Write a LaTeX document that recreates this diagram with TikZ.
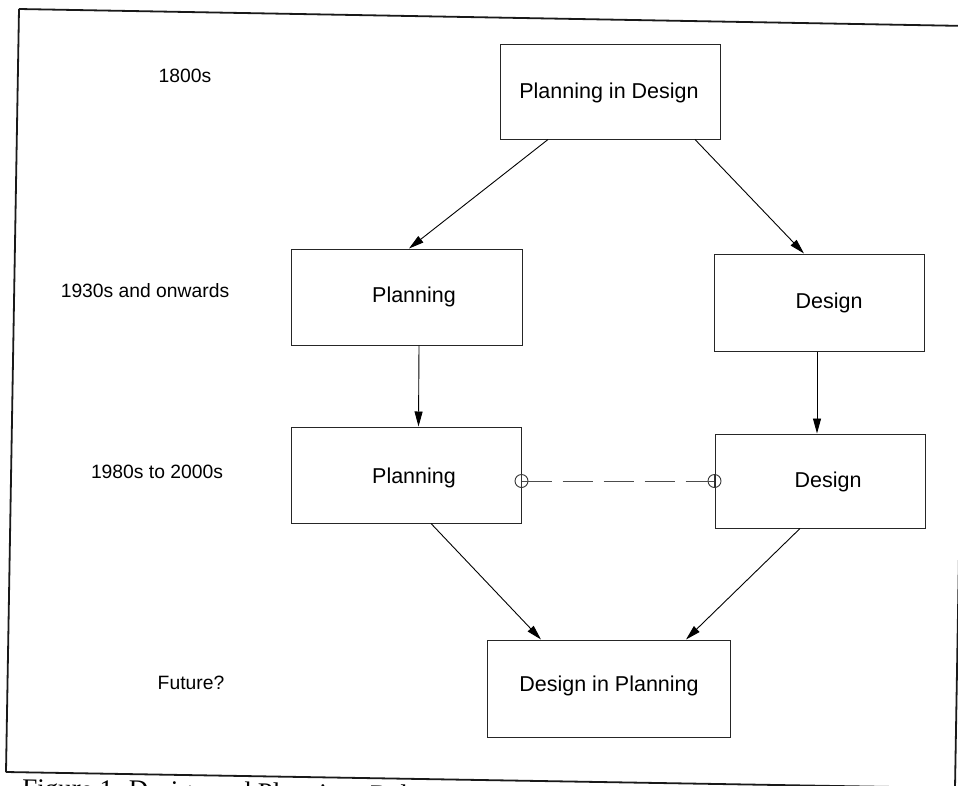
\documentclass[tikz,border=0pt]{standalone}
\usepackage{fontspec}
\setmainfont{Liberation Sans}
\newfontfamily\capfont{Liberation Serif}
\usetikzlibrary{arrows.meta,calc}
\tikzset{
  boxnode/.style={draw=black!85, line width=1pt, rectangle, inner sep=0pt},
  boxtext/.style={font=\fontsize{21.5}{26}\selectfont, inner sep=0pt, text=black},
  rowlabel/.style={font=\fontsize{19.3}{23}\selectfont, inner sep=0pt, text=black},
  arr/.style={line width=0.9pt, draw=black, -{Triangle[length=15pt,width=8pt]}},
  link/.style={line width=0.9pt, draw=black!70, dash pattern=on 30pt off 11pt},
  joint/.style={circle, draw=black!80, line width=0.9pt, minimum size=13pt, inner sep=0pt},
  frame/.style={line width=1.8pt, draw=black!90}
}
\begin{document}
\begin{tikzpicture}[x=1pt,y=-1pt]
\useasboundingbox (0,0) rectangle (958,785);
\clip (0,0) rectangle (958,785);
\fill[white] (0,0) rectangle (958,785);

% scanned frame
\coordinate (ftl) at (19,9);
\coordinate (ftr) at (968,26);
\coordinate (fbl) at (6,772);
\coordinate (fbr) at (955,788);
\draw[frame] (ftl) -- (ftr);
\draw[frame] (ftl) -- (fbl);
\draw[frame] (fbl) -- (fbr);
\draw[frame] (ftr) -- (fbr);

% boxes
\node[boxnode, minimum width=220pt, minimum height=95pt] (pid) at (610,91.5) {};
\node[boxnode, minimum width=231pt, minimum height=96pt] (p1) at (406.5,297) {};
\node[boxnode, minimum width=210pt, minimum height=97pt] (d1) at (819,302.5) {};
\node[boxnode, minimum width=230pt, minimum height=96pt] (p2) at (406,475) {};
\node[boxnode, minimum width=210pt, minimum height=94pt] (d2) at (820,481) {};
\node[boxnode, minimum width=243pt, minimum height=97pt] (dip) at (608.5,688.5) {};

% box texts
\node[boxtext] (pidt) at (609,93) {Planning in Design};
\node[boxtext] (p1t) at (414,297) {Planning};
\node[boxtext] (d1t) at (829,303) {Design};
\node[boxtext] (p2t) at (414,478) {Planning};
\node[boxtext] (d2t) at (828,482) {Design};
\node[boxtext] (dipt) at (609,686) {Design in Planning};

% row labels
\node[rowlabel] (l1) at (185,76) {1800s};
\node[rowlabel] (l2) at (145,291) {1930s and onwards};
\node[rowlabel] (l3) at (157,472) {1980s to 2000s};
\node[rowlabel] (l4) at (191,683) {Future?};

% arrows
\draw[arr] ([xshift=-62pt]pid.south) -- ([xshift=2.5pt]p1.north);
\draw[arr] ([xshift=85pt]pid.south) -- ([xshift=-15pt]d1.north);
\draw[arr] ([xshift=12.5pt]p1.south) -- ([xshift=12.5pt]p2.north);
\draw[arr] ([xshift=-2pt]d1.south) -- ([xshift=-3pt]d2.north);
\draw[arr] ([xshift=25pt]p2.south) -- ([xshift=-67.5pt]dip.north);
\draw[arr] ([xshift=-20pt]d2.south) -- ([xshift=77.5pt]dip.north);

% dashed link with joints
\node[joint] (jl) at ($(p2.east)+(0,6)$) {};
\node[joint] (jr) at (d2.west) {};
\draw[link] (jl.center) -- (jr.center);
\draw[line width=0.7pt, black!80] (jl.north) -- (jl.south);
\draw[line width=0.7pt, black!80] (jr.north) -- (jr.south);

% caption (cut off by the scan)
\node[anchor=base west, inner sep=0pt, rotate=-1, font=\capfont\fontsize{27}{30}\selectfont] (cap) at (22,797) {Figure 1. Design and Planning: Relati};
\end{tikzpicture}
\end{document}
